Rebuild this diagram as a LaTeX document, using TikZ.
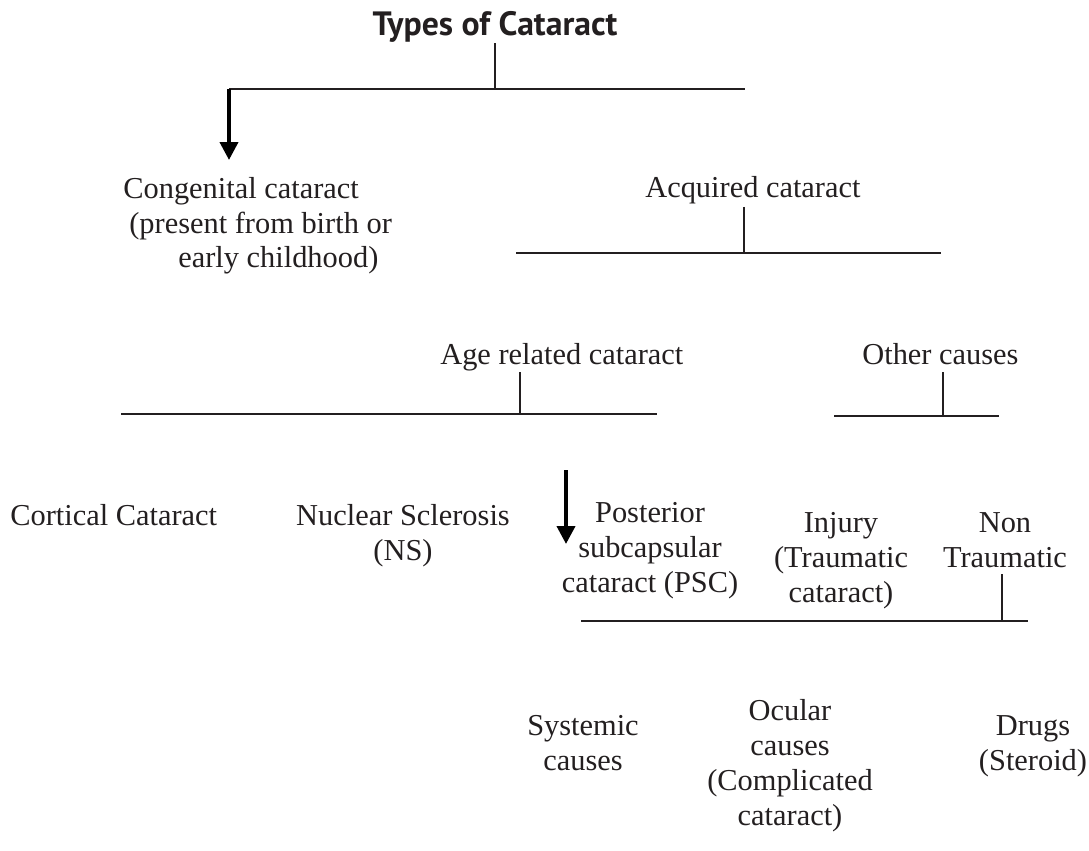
\documentclass[tikz,border=0pt]{standalone}
\usepackage{fontspec}
\setmainfont{Liberation Serif}
\newfontfamily\titlefont{PT Sans}
\usetikzlibrary{arrows.meta}

\definecolor{ink}{RGB}{35,31,32}

\tikzset{title label/.style={font={\titlefont\bfseries\fontsize{19.2}{22}\selectfont},anchor=base,inner sep=0cm,text=ink},
type label/.style={font={\fontsize{17.3}{19.85}\selectfont},anchor=base,align=center,inner sep=0cm,text=ink},
type label left/.style={type label,anchor=base west,align=left},
bar/.style={line width=1.6pt,draw=ink},
stem/.style={line width=1.1pt,draw=ink},
pointer/.style={line width=2.2pt,draw=black,-{Triangle[length=0.36cm,width=0.36cm]}}}

\begin{document}
\begin{tikzpicture}[x=0.02cm,y=-0.02cm]
\useasboundingbox (0,0) rectangle (1089,851);

%% Coordinates of branch points.
\coordinate (b1l) at (229,89);
\coordinate (b1r) at (745,89);
\coordinate (a1) at (229,160);
\coordinate (s2) at (744,207);
\coordinate (b2l) at (516,253);
\coordinate (b2r) at (941,253);
\coordinate (s3) at (520,372);
\coordinate (b3l) at (121,414);
\coordinate (b3r) at (657,414);
\coordinate (s4) at (943,372);
\coordinate (b4l) at (834,416);
\coordinate (b4r) at (999,416);
\coordinate (a2t) at (566,470);
\coordinate (a2) at (566,544);
\coordinate (s5) at (1002,574);
\coordinate (b5l) at (581,621);
\coordinate (b5r) at (1028,621);

%% labels (multi-line labels sit on the baseline of their last line)
\node [title label] (title) at (495,36) {Types of Cataract};
\node [type label left] (cong) at (123,268) {Congenital cataract\\\hspace*{0.12cm}(present from birth or\\\hspace*{1.1cm}early childhood)};
\node [type label left] (acq) at (645,198) {Acquired cataract};
\node [type label left] (age) at (440,364) {Age related cataract};
\node [type label left] (other) at (862,364) {Other causes};
\node [type label left] (cort) at (10,525) {Cortical Cataract};
\node [type label] (nucl) at (403,560) {Nuclear Sclerosis\\(NS)};
\node [type label] (psc) at (650,592) {Posterior\\subcapsular\\cataract (PSC)};
\node [type label] (inj) at (841,602) {Injury\\(Traumatic\\cataract)};
\node [type label] (nontr) at (1005,567) {Non\\Traumatic};
\node [type label] (syst) at (583,770) {Systemic\\causes};
\node [type label] (ocul) at (790,825) {Ocular\\causes\\(Complicated\\cataract)};
\node [type label] (drug) at (1033,770) {Drugs\\(Steroid)};

%% horizontal lines
\draw [bar] (b1l) -- (b1r);
\draw [bar] (b2l) -- (b2r);
\draw [bar] (b3l) -- (b3r);
\draw [bar] (b4l) -- (b4r);
\draw [bar] (b5l) -- (b5r);

%% vertical lines
\draw [stem] (title.south) -- (title.south |- b1l);
\draw [stem] (s2) -- (s2 |- b2l);
\draw [stem] (s3) -- (s3 |- b3l);
\draw [stem] (s4) -- (s4 |- b4l);
\draw [stem] (s5) -- (s5 |- b5l);

%% arrows
\draw [pointer] (b1l) -- (a1);
\draw [pointer] (a2t) -- (a2);

\end{tikzpicture}
\end{document}
